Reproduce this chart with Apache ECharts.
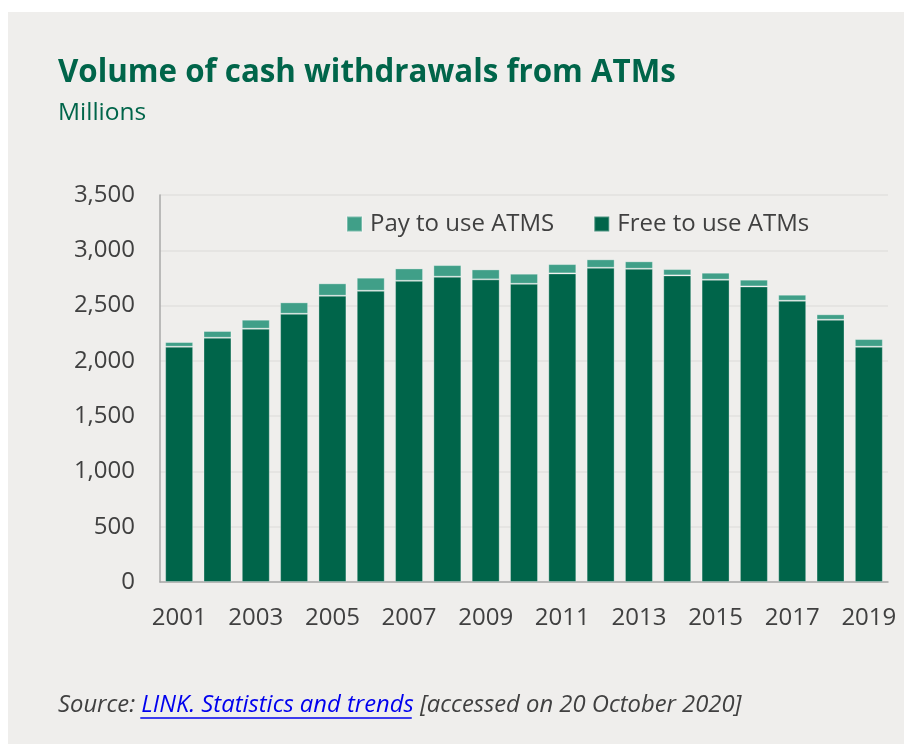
<!DOCTYPE html>
<html>
<head>
<meta charset="utf-8">
<style>
  html, body { margin: 0; padding: 0; background: #ffffff; }
  #chart { width: 904px; height: 744px; }
</style>
<script src="https://cdn.jsdelivr.net/npm/echarts@6/dist/echarts.min.js"></script>
</head>
<body>
<div id="chart"></div>
<script>
// Yearly ATM withdrawal volumes, millions
const years = ['2001','2002','2003','2004','2005','2006','2007','2008','2009','2010',
               '2011','2012','2013','2014','2015','2016','2017','2018','2019'];
const freeToUse = [2128, 2209, 2291, 2426, 2589, 2634, 2724, 2761, 2737, 2697,
                   2791, 2842, 2833, 2773, 2734, 2673, 2544, 2372, 2128];
const payToUse  = [42, 61, 81, 103, 112, 118, 112, 105, 90, 91,
                   84, 76, 67, 57, 63, 61, 54, 49, 69];

const chartTitle = 'Volume of cash withdrawals from ATMs';
const chartUnits = 'Millions';
const sourcePrefix = 'Source: ';
const sourceLink = 'LINK. Statistics and trends';
const sourceSuffix = ' [accessed on 20 October 2020]';

const DARK_GREEN = '#00654a';
const LIGHT_GREEN = '#409f88';
const TEXT_GREY = '#404040';
const PANEL = '#efeeec';

const sourceFont = 'italic 23.8px "Open Sans"';
function textWidth(str, font) {
  const ctx = document.createElement('canvas').getContext('2d');
  ctx.font = font;
  return ctx.measureText(str).width;
}
const srcX = 58, srcY = 705;
const linkX = srcX + textWidth(sourcePrefix, sourceFont);
const linkW = textWidth(sourceLink, sourceFont);

const chart = echarts.init(document.getElementById('chart'));
chart.setOption({
  backgroundColor: '#ffffff',
  animation: false,
  textStyle: { fontFamily: '"Open Sans", sans-serif' },
  graphic: [
    { type: 'rect', z: -10, silent: true,
      shape: { x: 8, y: 12, width: 896, height: 732 },
      style: { fill: PANEL } },
    { type: 'text', left: 58, top: 58,
      style: { text: chartTitle, fill: DARK_GREEN,
               font: 'bold 31.3px "Open Sans", sans-serif' } },
    { type: 'text', left: 58, top: 101,
      style: { text: chartUnits, fill: DARK_GREEN,
               font: '24.5px "Open Sans", sans-serif' } },
    { type: 'text', x: srcX, y: srcY,
      style: { text: sourcePrefix, fill: TEXT_GREY, font: sourceFont,
               textVerticalAlign: 'middle' } },
    { type: 'text', x: linkX, y: srcY,
      style: { text: sourceLink, fill: '#0000ee', font: sourceFont,
               textVerticalAlign: 'middle' } },
    { type: 'line', shape: { x1: linkX - 1, y1: srcY + 13, x2: linkX + linkW - 2, y2: srcY + 13 },
      style: { stroke: '#0000ee', lineWidth: 1.3 } },
    { type: 'text', x: linkX + linkW, y: srcY,
      style: { text: sourceSuffix, fill: TEXT_GREY, font: sourceFont,
               textVerticalAlign: 'middle' } }
  ],
  legend: {
    data: ['Pay to use ATMS', 'Free to use ATMs'],
    left: 341, top: 207,
    itemWidth: 15, itemHeight: 15, itemGap: 39,
    icon: 'rect',
    textStyle: { color: TEXT_GREY, fontSize: 24, padding: [0, 0, 0, 3] }
  },
  grid: { left: 160, right: 16, top: 195, bottom: 162, containLabel: false },
  xAxis: {
    type: 'category',
    data: years,
    axisLine: { lineStyle: { color: '#a8a8a8', width: 1.5 } },
    axisTick: { show: false },
    axisLabel: { interval: 1, color: TEXT_GREY, fontSize: 24, margin: 24 }
  },
  yAxis: {
    type: 'value',
    min: 0, max: 3500, interval: 500,
    axisLine: { show: true, lineStyle: { color: '#a8a8a8', width: 1.5 } },
    axisTick: { show: false },
    splitLine: { lineStyle: { color: '#e2e1df', width: 1.5 } },
    axisLabel: {
      color: TEXT_GREY, fontSize: 24, margin: 25,
      formatter: v => v.toLocaleString('en-GB')
    }
  },
  series: [
    { name: 'Free to use ATMs', type: 'bar', stack: 'total', data: freeToUse,
      barCategoryGap: '27%',
      itemStyle: { color: DARK_GREEN, borderColor: 'rgba(255,255,255,0.3)', borderWidth: 1 } },
    { name: 'Pay to use ATMS', type: 'bar', stack: 'total', data: payToUse,
      itemStyle: { color: LIGHT_GREEN, borderColor: 'rgba(255,255,255,0.3)', borderWidth: 1 } }
  ]
});
</script>
</body>
</html>
